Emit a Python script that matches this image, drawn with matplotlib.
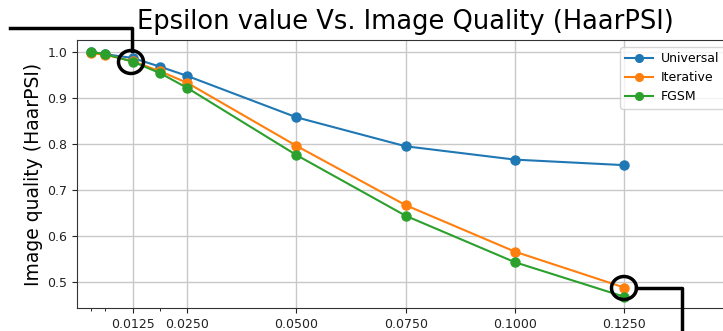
import matplotlib
matplotlib.use("Agg")
import matplotlib.pyplot as plt
from matplotlib.patches import Ellipse
from matplotlib.lines import Line2D

eps = [0.0031, 0.0063, 0.0125, 0.0188, 0.0250, 0.0500, 0.0750, 0.1000, 0.1250]
universal = [1.000, 0.995, 0.987, 0.968, 0.948, 0.858, 0.795, 0.766, 0.754]
iterative = [0.997, 0.994, 0.980, 0.958, 0.933, 0.796, 0.667, 0.566, 0.488]
fgsm = [1.000, 0.995, 0.979, 0.954, 0.922, 0.776, 0.644, 0.543, 0.468]
major_ticks = [0.0125, 0.0250, 0.0500, 0.0750, 0.1000, 0.1250]
major_labels = ["0.0125", "0.0250", "0.0500", "0.0750", "0.1000", "0.1250"]
minor_ticks = [0.0031, 0.0063, 0.0188]
y_ticks = [0.5, 0.6, 0.7, 0.8, 0.9, 1.0]

W, H = 723, 331
fig = plt.figure(figsize=(W / 100, H / 100), dpi=100)
ax_l, ax_r, ax_t, ax_b = 77, 740, 40, 308
ax = fig.add_axes([ax_l / W, 1 - ax_b / H, (ax_r - ax_l) / W, (ax_b - ax_t) / H])

ax.plot(eps, universal, marker='o', color='#1f77b4', label='Universal', markersize=6.5, lw=1.5)
ax.plot(eps, iterative, marker='o', color='#ff7f0e', label='Iterative', markersize=6.5, lw=1.5)
ax.plot(eps, fgsm, marker='o', color='#2ca02c', label='FGSM', markersize=6.5, lw=1.5)

ax.set_xlim(-0.0002, 0.1515)
ax.set_ylim(0.4435, 1.026)
ax.set_xticks(major_ticks)
ax.set_xticklabels(major_labels)
ax.set_xticks(minor_ticks, minor=True)
ax.set_yticks(y_ticks)
ax.tick_params(labelsize=9, colors='#222222')
ax.grid(True, which='major', color='#c8c8c8', lw=1)
ax.set_axisbelow(True)
for s in ax.spines.values():
    s.set_color('#333333')

ax.set_ylabel('Image quality (HaarPSI)', fontsize=13.5)
ax.yaxis.set_label_coords(-0.052, 0.5)
fig.text(405 / W, 1 - 22 / H, 'Epsilon value Vs. Image Quality (HaarPSI)',
         fontsize=18.5, ha='center', va='center')

leg = fig.legend(loc='upper left', bbox_to_anchor=(620 / W, 1 - 47 / H),
                 bbox_transform=fig.transFigure, fontsize=9, framealpha=0.8,
                 borderaxespad=0, handlelength=2.2, handletextpad=0.7,
                 borderpad=0.4, labelspacing=0.5, markerscale=0.85)

def fx(x):
    return x / W

def fy(y):
    return 1 - y / H

# annotation overlays (pixel coords)
for cx, cy in [(131, 62), (624, 288)]:
    e = Ellipse((fx(cx), fy(cy)), 25 / W, 23 / H, transform=fig.transFigure,
                fill=False, ec='black', lw=2.5, zorder=10)
    fig.add_artist(e)
fig.add_artist(Line2D([fx(10), fx(132), fx(132)], [fy(28), fy(28), fy(51)],
                      transform=fig.transFigure, color='black', lw=2.5))
fig.add_artist(Line2D([fx(636), fx(682), fx(682)], [fy(288), fy(288), fy(335)],
                      transform=fig.transFigure, color='black', lw=2.5))

fig.savefig('out.png', dpi=100)
